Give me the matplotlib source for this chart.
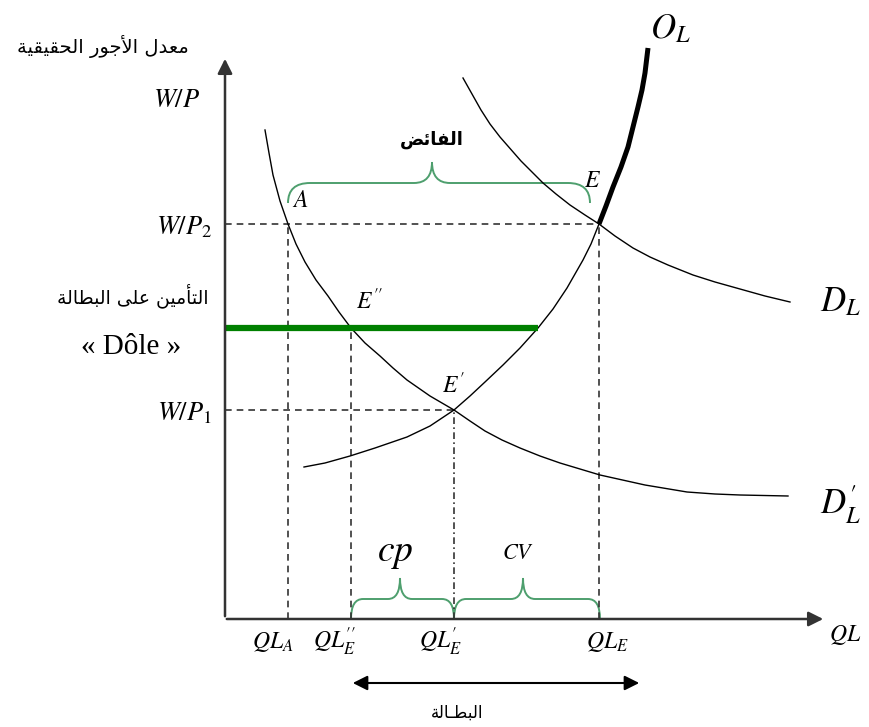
import numpy as np
import matplotlib
matplotlib.use("Agg")
import matplotlib.pyplot as plt
from matplotlib.path import Path
import matplotlib.patches as mpatches

plt.rcParams['mathtext.fontset'] = 'stix'

# curves (QL, W/P) in chart units
dl_x = [238, 247, 256, 265, 275, 296, 318, 331, 345, 360, 374, 390, 408, 425, 443, 468, 490, 515, 540, 565]
dl_y = [541, 525, 509, 495, 482, 458, 436, 425, 414, 404, 395, 383, 371, 362, 354, 344, 337, 330, 323, 317]

dl2_x = [40, 44, 48, 55, 63, 71, 80, 91, 103, 114, 126, 140, 155, 168, 182, 205, 229,
         245, 260, 277, 295, 315, 335, 355, 375, 420, 462, 490, 515, 563]
dl2_y = [489, 466, 444, 418, 395, 375, 357, 339, 323, 307, 291, 276, 263, 251, 239, 223, 209,
         198, 188, 179, 171, 163, 156, 150, 144, 134, 127, 125, 124, 123]

ol_x = [79, 100, 125, 150, 182, 205, 229, 245, 260, 278, 295, 313, 328, 342, 358, 366, 374]
ol_y = [152, 156, 163, 171, 182, 193, 209, 223, 237, 254, 271, 291, 310, 331, 359, 375, 395]
ol_thick_x = [374, 381, 388, 396, 403, 408, 413, 417, 420, 423]
ol_thick_y = [395, 413, 432, 452, 472, 492, 512, 529, 546, 571]

# key levels
wp2 = 395
wp1 = 209
dole = 291
dole_end = 313
qla = 63
qle2 = 126
qle1 = 229
qle = 374

green = '#008000'
brace_col = '#4e9f6e'

LAMALEF = {'\u0627': ('\uFEFB', '\uFEFC'), '\u0623': ('\uFEF7', '\uFEF8')}
FORMS = {
    '\u0627': ('\uFE8D', '\uFE8E', None, None),
    '\u0623': ('\uFE83', '\uFE84', None, None),
    '\u0626': ('\uFE89', '\uFE8A', '\uFE8B', '\uFE8C'),
    '\u0628': ('\uFE8F', '\uFE90', '\uFE91', '\uFE92'),
    '\u0629': ('\uFE93', '\uFE94', None, None),
    '\u062A': ('\uFE95', '\uFE96', '\uFE97', '\uFE98'),
    '\u062C': ('\uFE9D', '\uFE9E', '\uFE9F', '\uFEA0'),
    '\u062D': ('\uFEA1', '\uFEA2', '\uFEA3', '\uFEA4'),
    '\u062F': ('\uFEA9', '\uFEAA', None, None),
    '\u0631': ('\uFEAD', '\uFEAE', None, None),
    '\u0636': ('\uFEBD', '\uFEBE', '\uFEBF', '\uFEC0'),
    '\u0637': ('\uFEC1', '\uFEC2', '\uFEC3', '\uFEC4'),
    '\u0639': ('\uFEC9', '\uFECA', '\uFECB', '\uFECC'),
    '\u0641': ('\uFED1', '\uFED2', '\uFED3', '\uFED4'),
    '\u0642': ('\uFED5', '\uFED6', '\uFED7', '\uFED8'),
    '\u0644': ('\uFEDD', '\uFEDE', '\uFEDF', '\uFEE0'),
    '\u0645': ('\uFEE1', '\uFEE2', '\uFEE3', '\uFEE4'),
    '\u0646': ('\uFEE5', '\uFEE6', '\uFEE7', '\uFEE8'),
    '\u0648': ('\uFEED', '\uFEEE', None, None),
    '\u0649': ('\uFEEF', '\uFEF0', None, None),
    '\u064A': ('\uFEF1', '\uFEF2', '\uFEF3', '\uFEF4'),
    '\u0640': ('\u0640', '\u0640', '\u0640', '\u0640'),
}


def fwd(c):
    return c in FORMS and FORMS[c][2] is not None


def shape(text):
    # joins arabic letters into presentation forms, then reverses for display
    out = []
    i = 0
    n = len(text)
    while i < n:
        c = text[i]
        if c not in FORMS:
            out.append(c)
            i += 1
            continue
        pj = i > 0 and fwd(text[i - 1])
        if c == '\u0644' and i + 1 < n and text[i + 1] in LAMALEF:
            iso, fin = LAMALEF[text[i + 1]]
            out.append(fin if pj else iso)
            i += 2
            continue
        nj = fwd(c) and i + 1 < n and text[i + 1] in FORMS
        iso, fin, ini, med = FORMS[c]
        if pj and nj:
            out.append(med)
        elif pj:
            out.append(fin)
        elif nj:
            out.append(ini)
        else:
            out.append(iso)
        i += 1
    return ''.join(reversed(out))


def brace(ax, x0, x1, xm, y0, y1, y2, r_end, r_tip):
    verts = [(x0, y0), (x0, y1), (x0 + r_end, y1),
             (xm - r_tip, y1), (xm, y1), (xm, y2),
             (xm, y1), (xm + r_tip, y1),
             (x1 - r_end, y1), (x1, y1), (x1, y0)]
    codes = [Path.MOVETO, Path.CURVE3, Path.CURVE3,
             Path.LINETO, Path.CURVE3, Path.CURVE3,
             Path.CURVE3, Path.CURVE3,
             Path.LINETO, Path.CURVE3, Path.CURVE3]
    ax.add_patch(mpatches.PathPatch(Path(verts, codes), fill=False,
                                    edgecolor=brace_col, lw=1.4))


fig = plt.figure(figsize=(8.69, 7.27), dpi=100)
ax = fig.add_axes([0, 0, 1, 1])
ax.set_xlim(-225, 644)
ax.set_ylim(-108, 619)
ax.axis('off')

# axes
ax.annotate('', xy=(0, 563), xytext=(0, 0),
            arrowprops=dict(arrowstyle='-|>', lw=1.8, color='#333333', mutation_scale=22))
ax.annotate('', xy=(601, 0), xytext=(-1, 0),
            arrowprops=dict(arrowstyle='-|>', lw=1.8, color='#333333', mutation_scale=22))

dash = (0, (4, 3))
ax.plot([0, qle], [wp2, wp2], color='#333333', lw=1.2, ls=dash)
ax.plot([0, qle1], [wp1, wp1], color='#333333', lw=1.2, ls=dash)
ax.plot([qla, qla], [0, wp2], color='#333333', lw=1.2, ls=dash)
ax.plot([qle, qle], [0, wp2], color='#333333', lw=1.2, ls=dash)
ax.plot([qle2, qle2], [0, dole], color='#333333', lw=1.2, ls=dash)
ax.plot([qle1, qle1], [0, wp1], color='#333333', lw=1.2, ls=(0, (4, 2, 1, 2)))

# curves
ax.plot(dl_x, dl_y, color='black', lw=1.0)
ax.plot(dl2_x, dl2_y, color='black', lw=1.0)
ax.plot(ol_x, ol_y, color='black', lw=1.0)
ax.plot(ol_thick_x, ol_thick_y, color='black', lw=3.6, solid_capstyle='butt')

# dole line
ax.plot([0, dole_end], [dole, dole], color=green, lw=4.5, solid_capstyle='butt')

# braces
brace(ax, qla, 365, 207, 416, 436, 457, 22, 18)
brace(ax, qle2, qle1, 175, 0, 20, 41, 12, 12)
brace(ax, qle1, qle + 1, 298, 0, 20, 41, 12, 12)

# unemployment arrow
ax.annotate('', xy=(417, -64), xytext=(125, -64),
            arrowprops=dict(arrowstyle='<|-|>', lw=1.5, color='black', mutation_scale=22))

# labels
ms = 17
wl = 19
ax.text(-122, 572, shape('معدل الأجور الحقيقية'), fontsize=14, ha='center', va='center',
        family='DejaVu Sans')
ax.text(-25, 519, r'$W/P$', fontsize=wl, ha='right', va='center')
ax.text(-13, wp2 - 3, r'$W/P_2$', fontsize=wl, ha='right', va='center')
ax.text(-13, wp1 - 3, r'$W/P_1$', fontsize=wl, ha='right', va='center')
ax.text(-17, 323, shape('التأمين على البطالة'), fontsize=13.5, ha='right', va='center',
        family='DejaVu Sans')
ax.text(-94, 272, '« Dôle »', fontsize=21, ha='center', va='center', family='Liberation Serif')

ax.text(qla - 15, -23, r'$QL_A$', fontsize=ms, ha='center', va='center')
ax.text(qle2 - 16, -23, r'$QL^{\prime\prime}_E$', fontsize=ms, ha='center', va='center')
ax.text(qle1 - 14, -23, r'$QL^{\prime}_E$', fontsize=ms, ha='center', va='center')
ax.text(qle + 8, -23, r'$QL_E$', fontsize=ms, ha='center', va='center')
ax.text(620, -16, r'$QL$', fontsize=ms, ha='center', va='center')

ax.text(445, 591, r'$O_L$', fontsize=25, ha='center', va='center')
ax.text(615, 318, r'$D_L$', fontsize=25, ha='center', va='center')
ax.text(615, 114, r'$D^{\prime}_L$', fontsize=25, ha='center', va='center')

ax.text(qla + 12, 419, r'$A$', fontsize=ms, ha='center', va='center')
ax.text(qle - 6, 439, r'$E$', fontsize=ms, ha='center', va='center')
ax.text(qle2 + 19, 318, r'$E^{\prime\prime}$', fontsize=ms, ha='center', va='center')
ax.text(qle1 - 1, 234, r'$E^{\prime}$', fontsize=ms, ha='center', va='center')

ax.text(207, 479, shape('الفائض'), fontsize=13, ha='center', va='center',
        family='DejaVu Sans', fontweight='bold')
ax.text(170, 66, r'$cp$', fontsize=27, ha='center', va='center')
ax.text(293, 66, r'$CV$', fontsize=16, ha='center', va='center')
ax.text(232, -94, shape('البطـالة'), fontsize=12, ha='center', va='center',
        family='DejaVu Sans')

fig.savefig('out.png', dpi=100)
